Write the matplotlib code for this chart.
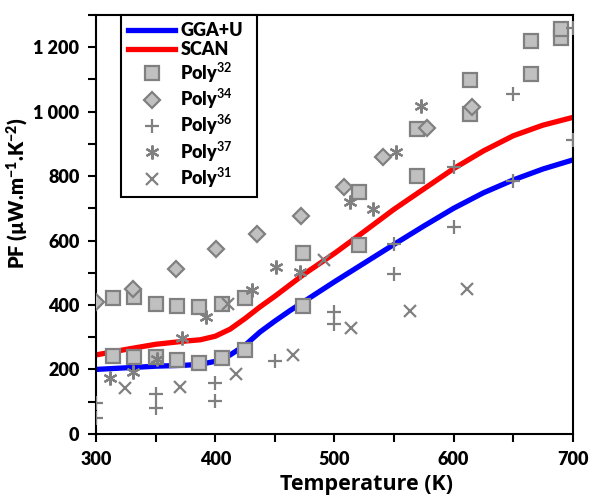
import matplotlib
matplotlib.use("Agg")
import matplotlib.pyplot as plt
from matplotlib.ticker import MultipleLocator, FuncFormatter

plt.rcParams['font.family'] = ['Lato', 'DejaVu Sans']
plt.rcParams['font.weight'] = 'bold'
plt.rcParams['axes.labelweight'] = 'bold'
plt.rcParams['mathtext.fontset'] = 'custom'
plt.rcParams['mathtext.rm'] = 'Lato'

# calculated power factor curves
gga_T = [300, 325, 350, 375, 387.5, 400, 412.5, 425, 437.5, 450, 462.5, 475, 500, 525,
         550, 575, 600, 625, 650, 675, 700]
gga_pf = [200, 205, 210, 213, 216, 225, 245, 275, 316, 350, 382, 412, 472, 530,
          588, 645, 700, 748, 788, 822, 850]
scan_T = [300, 325, 350, 375, 387.5, 400, 412.5, 425, 437.5, 450, 462.5, 475, 500, 525,
          550, 575, 600, 625, 650, 675, 700]
scan_pf = [245, 262, 278, 288, 292, 303, 325, 358, 394, 427, 462, 497, 560, 628,
           697, 760, 823, 878, 925, 958, 982]

# experimental data
p32_T = [314, 332, 350, 368, 386, 406, 425, 314, 332, 350, 368, 386, 406, 425,
         474, 474, 521, 521, 569, 569, 614, 614, 665, 665, 690, 690]
p32_pf = [423, 425, 404, 398, 394, 402, 423, 241, 237, 237, 229, 219, 234, 260,
          396, 562, 585, 750, 801, 946, 992, 1097, 1118, 1219, 1229, 1255]
p34_T = [300, 331, 367, 401, 435, 472, 508, 541, 578, 615]
p34_pf = [410, 450, 513, 573, 621, 677, 765, 858, 948, 1014]
p36_T = [300, 300, 350, 350, 400, 400, 450, 500, 500, 550, 550, 600, 600, 650, 650, 700, 700]
p36_pf = [97, 49, 124, 80, 159, 103, 227, 378, 340, 590, 495, 827, 641, 786, 1054, 911, 1258]
p37_T = [312, 331, 351, 372, 392, 431, 451, 471, 513, 532, 552, 573]
p37_pf = [172, 193, 231, 299, 363, 445, 517, 502, 718, 698, 876, 1017]
p31_T = [324, 370, 411, 417, 465, 491, 514, 563, 611]
p31_pf = [141, 146, 404, 186, 244, 538, 327, 380, 451]

fig = plt.figure(figsize=(5.93, 4.97), dpi=100)
ax = fig.add_axes([0.162, 0.127, 0.804, 0.843])

ax.plot(gga_T, gga_pf, color='#0000ff', lw=3.8, label='GGA+U', zorder=2)
ax.plot(scan_T, scan_pf, color='#ff0000', lw=3.8, label='SCAN', zorder=2)

grey = '#808080'
fill = '#c0c0c0'
ax.plot(p32_T, p32_pf, ls='none', marker='s', ms=10, mfc=fill, mec=grey, mew=1.6,
        label=r'Poly$^{\mathrm{32}}$', zorder=3)
ax.plot(p34_T, p34_pf, ls='none', marker='D', ms=8, mfc=fill, mec=grey, mew=1.6,
        label=r'Poly$^{\mathrm{34}}$', zorder=3)
ax.plot(p36_T, p36_pf, ls='none', marker='+', ms=10, color=grey, mew=1.6,
        label=r'Poly$^{\mathrm{36}}$', zorder=3)
ax.plot(p37_T, p37_pf, ls='none', marker=(6, 2, 0), ms=10, color=grey, mew=1.6,
        label=r'Poly$^{\mathrm{37}}$', zorder=3)
ax.plot(p31_T, p31_pf, ls='none', marker='x', ms=9, color=grey, mew=1.6,
        label=r'Poly$^{\mathrm{31}}$', zorder=3)

ax.set_xlim(300, 700)
ax.set_ylim(0, 1300)
ax.xaxis.set_major_locator(MultipleLocator(100))
ax.xaxis.set_minor_locator(MultipleLocator(50))
ax.yaxis.set_major_locator(MultipleLocator(200))
ax.yaxis.set_minor_locator(MultipleLocator(100))
ax.yaxis.set_major_formatter(FuncFormatter(lambda v, p: f"{int(v):,}".replace(",", " ")))

for s in ax.spines.values():
    s.set_linewidth(1.5)
ax.tick_params(which='both', direction='out', length=6, width=1.5, labelsize=13, pad=6)
for lab in ax.get_xticklabels() + ax.get_yticklabels():
    lab.set_fontweight('heavy')

ax.set_xlabel('Temperature (K)', fontsize=15.5, family=['Open Sans', 'DejaVu Sans'],
              fontweight='bold')
ax.xaxis.set_label_coords(0.568, -0.095)
ax.set_ylabel(r'PF (µW.m$^{\mathregular{-1}}$.K$^{\mathregular{-2}}$)', fontsize=14.5,
              fontweight='heavy')
ax.yaxis.set_label_coords(-0.136, 0.575)

leg = ax.legend(loc='upper left', bbox_to_anchor=(0.052, 0.0, 0.285, 1.0), mode='expand',
                borderaxespad=0, prop={'size': 13, 'weight': 'heavy'}, handlelength=2.6,
                handletextpad=0.3, labelspacing=0.12, borderpad=0.4, fancybox=False,
                framealpha=1, edgecolor='black')
leg.get_frame().set_linewidth(1.5)

fig.savefig('out.png', dpi=100)
